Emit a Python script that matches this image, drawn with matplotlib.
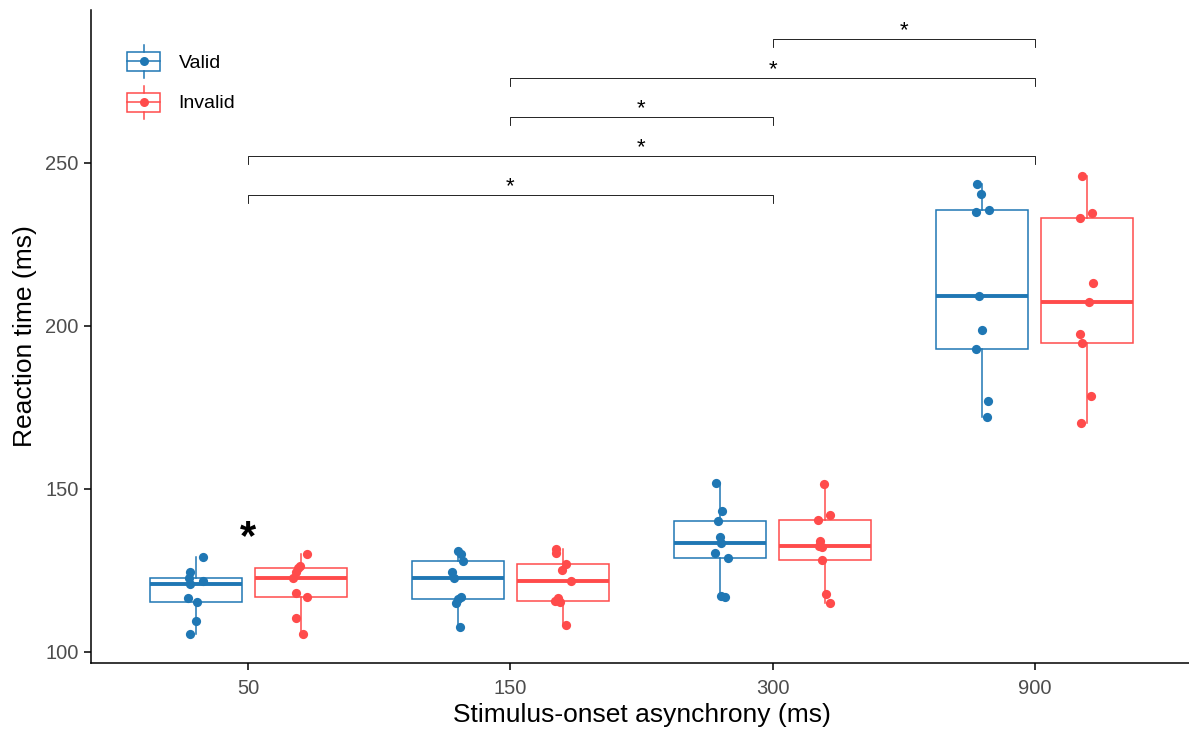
import matplotlib.pyplot as plt
import numpy as np
from matplotlib.legend_handler import HandlerBase
from matplotlib.lines import Line2D
from matplotlib.patches import Rectangle

plt.rcParams['font.family'] = ['Liberation Sans', 'DejaVu Sans']

soa_labels = ['50', '150', '300', '900']
group_names = ['Valid', 'Invalid']
group_colors = ['#1F77B4', '#FF4B4B']

# reaction times per participant, one list per SOA
valid_rt = [
    [105.5, 109.5, 115.4, 116.5, 120.8, 121.9, 122.8, 124.4, 129.0],
    [107.6, 115.1, 116.2, 116.8, 122.6, 124.4, 128.0, 130.1, 131.0],
    [116.8, 117.0, 128.7, 130.3, 133.3, 135.4, 140.3, 143.3, 151.9],
    [172.1, 176.9, 192.9, 198.8, 209.2, 235.0, 235.5, 240.5, 243.6],
]
invalid_rt = [
    [105.4, 110.5, 116.8, 118.2, 122.6, 124.4, 125.6, 126.5, 130.1],
    [108.3, 115.3, 115.6, 116.5, 121.6, 125.2, 127.0, 130.3, 131.5],
    [114.9, 117.8, 128.2, 132.1, 132.5, 134.1, 140.5, 142.0, 151.5],
    [170.3, 178.5, 194.9, 197.5, 207.2, 213.1, 233.0, 234.6, 246.1],
]

# SOA comparisons (index pairs), bracket heights and labels
sig_pairs = [(0, 2), (0, 3), (1, 2), (1, 3), (2, 3)]
sig_heights = [240.2, 252.1, 264.1, 276.1, 288.0]
sig_labels = ['*', '*', '*', '*', '*']

# validity effect marker
cue_effect_soa = 0
cue_effect_y = 135.0


class BoxKeyHandler(HandlerBase):
    """Legend key drawn as a small boxplot with a dot."""

    def create_artists(self, legend, orig_handle, xdescent, ydescent,
                       width, height, fontsize, trans):
        c = orig_handle.get_color()
        cx = width / 2 - xdescent
        cy = height / 2 - ydescent
        bw, bh = width, height * 0.6
        box = Rectangle((cx - bw / 2, cy - bh / 2), bw, bh, facecolor='white',
                        edgecolor=c, linewidth=1.1, transform=trans)
        mid = Line2D([cx - bw / 2, cx + bw / 2], [cy, cy], color=c, lw=1.1, transform=trans)
        top = Line2D([cx, cx], [cy + bh / 2, cy + height / 2], color=c, lw=1.1, transform=trans)
        bot = Line2D([cx, cx], [cy - bh / 2, cy - height / 2], color=c, lw=1.1, transform=trans)
        dot = Line2D([cx], [cy], marker='o', markersize=6.5, color=c, markeredgewidth=0,
                     linestyle='none', transform=trans)
        return [box, mid, top, bot, dot]


fig = plt.figure(figsize=(11.89, 7.30), dpi=100)
ax = fig.add_axes([91 / 1189, 67 / 730, 1101 / 1189, 653 / 730])

x = np.arange(1, len(soa_labels) + 1)
rng = np.random.default_rng(11)
handles = []
for data, offset, name, c in zip([valid_rt, invalid_rt], [-0.2, 0.2], group_names, group_colors):
    pos = x + offset
    ax.boxplot(data, positions=pos, widths=0.35, whis=1.5, showfliers=False, showcaps=False,
               patch_artist=True, manage_ticks=False,
               boxprops=dict(facecolor='white', edgecolor=c, linewidth=1.1),
               whiskerprops=dict(color=c, linewidth=1.1),
               medianprops=dict(color=c, linewidth=2.8, solid_capstyle='butt'), zorder=2)
    for p, vals in zip(pos, data):
        jit = rng.uniform(-0.03, 0.03, len(vals))
        ax.scatter(p + jit, vals, s=44, color=c, linewidths=0, zorder=3)
    handles.append(Line2D([], [], color=c, label=name))

# significance brackets between SOAs
tick = 2.5
for (i, j), h, lab in zip(sig_pairs, sig_heights, sig_labels):
    ax.plot([x[i], x[i], x[j], x[j]], [h - tick, h, h, h - tick], color='black', lw=0.6)
    ax.text((x[i] + x[j]) / 2, h - 0.6, lab, ha='center', va='bottom', fontsize=16)

ax.text(x[cue_effect_soa], cue_effect_y, '*', ha='center', va='center',
        fontsize=30, fontweight='bold')

ax.set_xlim(0.4, 4.6)
ax.set_ylim(96.6, 296.9)
ax.set_xticks(x)
ax.set_xticklabels(soa_labels)
ax.set_yticks([100, 150, 200, 250])
ax.spines['top'].set_visible(False)
ax.spines['right'].set_visible(False)
for s in ['left', 'bottom']:
    ax.spines[s].set_linewidth(1.1)
ax.tick_params(axis='both', length=5, width=1.1, labelsize=14.5, labelcolor='#4D4D4D')
ax.tick_params(axis='x', pad=6.5)
ax.tick_params(axis='y', pad=4)
ax.set_xlabel('Stimulus-onset asynchrony (ms)', fontsize=19, labelpad=3.5)
ax.set_ylabel('Reaction time (ms)', fontsize=19, labelpad=6)

ax.legend(handles=handles, handler_map={Line2D: BoxKeyHandler()}, loc='upper left',
          bbox_to_anchor=(127 / 1189, 1 - 45 / 730), bbox_transform=fig.transFigure,
          frameon=False, fontsize=14, handlelength=1.7, handleheight=2.23,
          handletextpad=0.95, labelspacing=0.41, borderpad=0, borderaxespad=0)

fig.savefig('out.png', dpi=100)
